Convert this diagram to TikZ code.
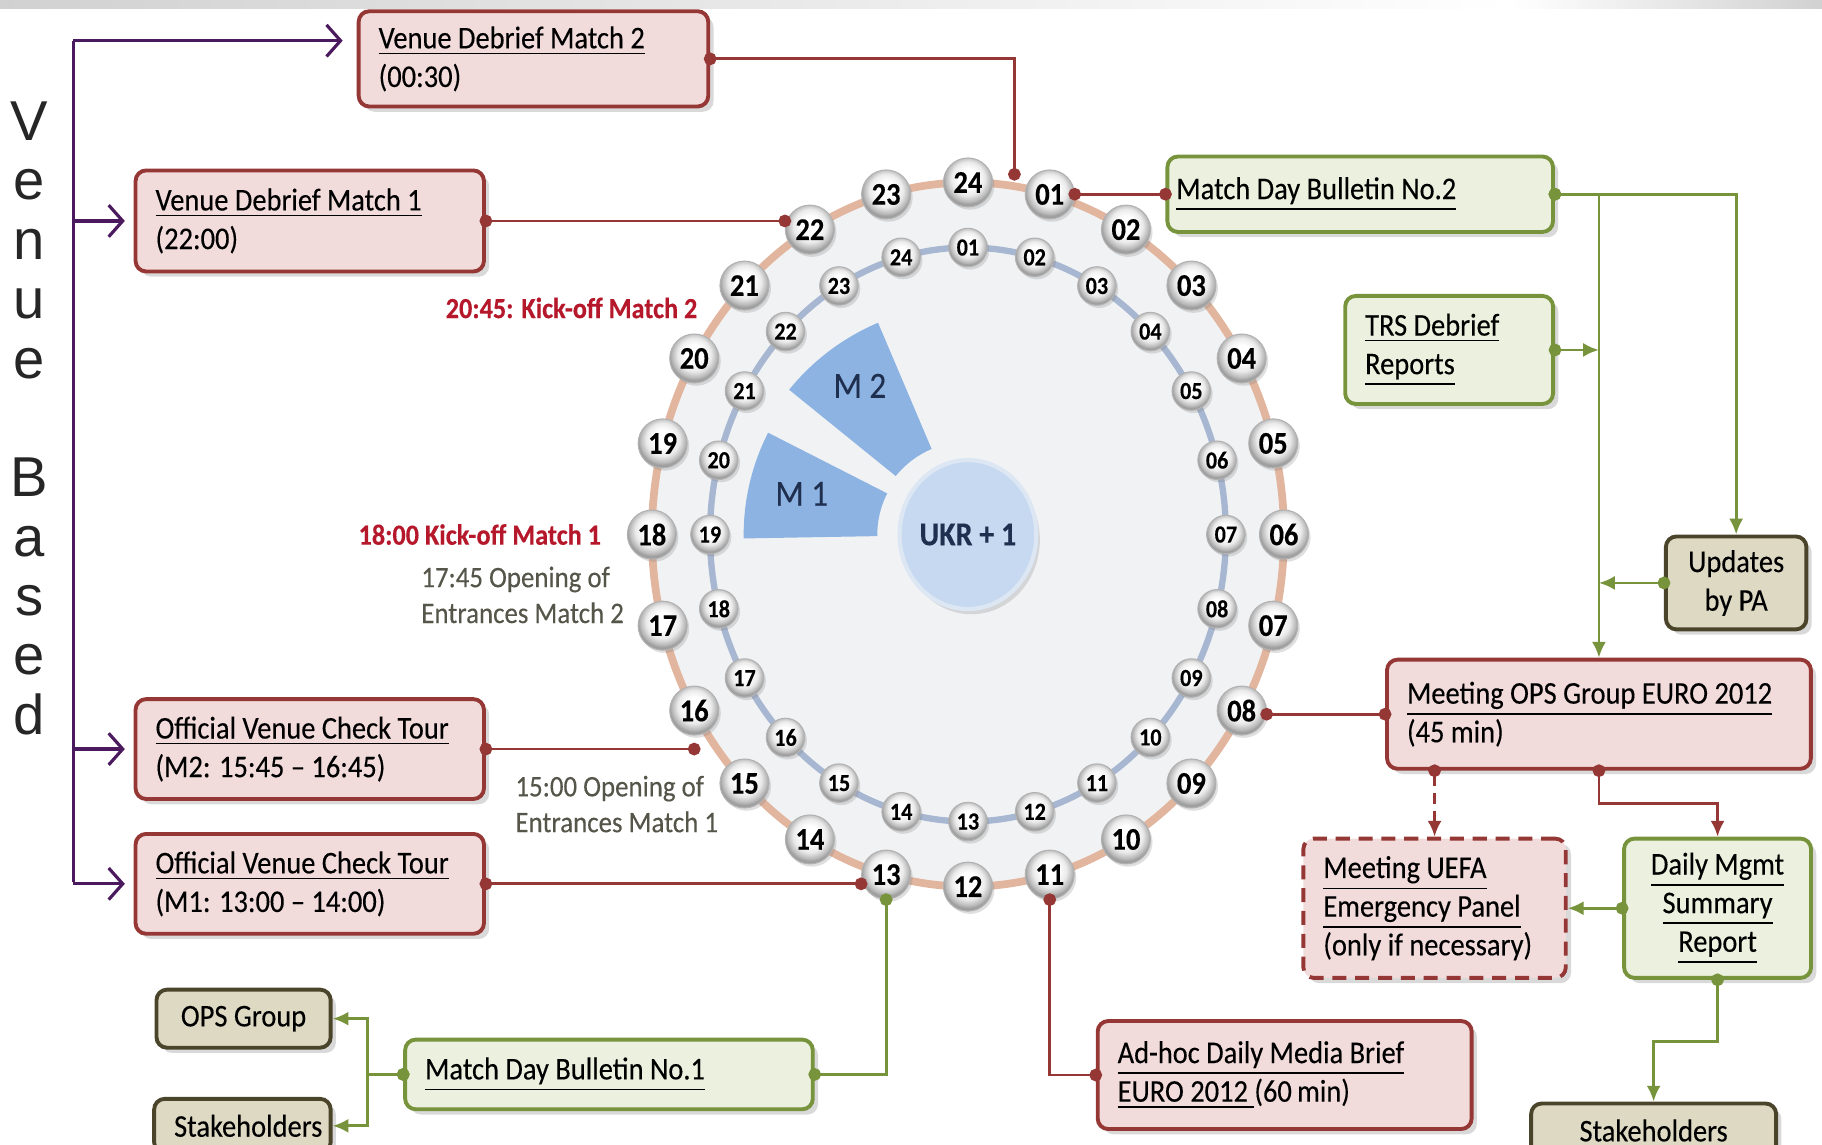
\documentclass[tikz,border=0pt]{standalone}
\usepackage{fontspec}
\setmainfont{Carlito}[FakeStretch=0.9, FakeBold=0.25]
\newfontfamily\venuefont{Liberation Sans}
\usepackage{tikz}
\usetikzlibrary{positioning}
\usetikzlibrary{calc}
\usetikzlibrary{shadows}
\usetikzlibrary{arrows.meta}
\usetikzlibrary{shapes.geometric}

\definecolor{boxred}{HTML}{953735}
\definecolor{fillred}{HTML}{F2DCDB}
\definecolor{boxgreen}{HTML}{77933C}
\definecolor{fillgreen}{HTML}{EBF1DE}
\definecolor{boxtan}{HTML}{4A452A}
\definecolor{filltan}{HTML}{DDD9C3}
\definecolor{venuepurple}{HTML}{4B1A5E}
\definecolor{kickred}{HTML}{B5172B}
\definecolor{opengray}{HTML}{55554A}
\definecolor{ringtan}{HTML}{E2B59E}
\definecolor{ringblue}{HTML}{A7B6D1}
\definecolor{discgray}{HTML}{F1F2F4}
\definecolor{wedgeblue}{HTML}{8DB3E2}
\definecolor{ukrblue}{HTML}{C6D9F1}
\definecolor{ukrrim}{HTML}{DDE7F4}
\definecolor{navytext}{HTML}{1F2F4F}

\pgfdeclareradialshading{pearl}{\pgfpoint{0bp}{6bp}}{color(0bp)=(white); color(9bp)=(white); color(17bp)=(black!8); color(23bp)=(black!28); color(25bp)=(black!38); color(50bp)=(black!38)}

\tikzset{
    basebox/.style={rectangle, rounded corners=3pt, line width=1.1pt, anchor=north west,
        align=flush left, inner xsep=0.2cm, inner ysep=2pt, font=\fontsize{9}{11}\selectfont,
        drop shadow={shadow xshift=1.5pt, shadow yshift=-1.5pt, opacity=0.3}},
    redbox/.style={basebox, draw=boxred, fill=fillred},
    greenbox/.style={basebox, draw=boxgreen, fill=fillgreen},
    tanbox/.style={basebox, draw=boxtan, fill=filltan, align=flush center},
    outerball/.style={circle, minimum size=0.49cm, inner sep=0pt, shading=pearl,
        draw=black!30, line width=0.3pt, font=\fontsize{9}{9}\selectfont\bfseries,
        drop shadow={shadow xshift=0.6pt, shadow yshift=-0.8pt, opacity=0.25}},
    innerball/.style={outerball, minimum size=0.385cm, font=\fontsize{7}{7}\selectfont\bfseries},
    ukrdisc/.style={ellipse, inner sep=0pt, minimum width=1.35cm, minimum height=1.49cm, fill=ukrblue,
        draw=ukrrim, line width=1.2pt, text=navytext, font=\fontsize{9.5}{11}\selectfont\bfseries,
        drop shadow={shadow xshift=1pt, shadow yshift=-1.5pt, opacity=0.25}},
    redlink/.style={draw=boxred, line width=0.8pt, shorten <=-1.8pt, shorten >=-1.8pt,
        arrows={Circle[length=3.6pt]-Circle[length=3.6pt]}},
    greenlink/.style={draw=boxgreen, line width=0.8pt, shorten <=-1.8pt, shorten >=-1.8pt,
        arrows={Circle[length=3.6pt]-Circle[length=3.6pt]}},
    redarrow/.style={draw=boxred, line width=0.8pt, shorten <=-1.8pt,
        arrows={Circle[length=3.6pt]-Latex[length=4.5pt, width=4pt]}},
    greenarrow/.style={draw=boxgreen, line width=0.8pt, shorten <=-1.8pt,
        arrows={Circle[length=3.6pt]-Latex[length=4.5pt, width=4pt]}},
    venuearrow/.style={draw=venuepurple, line width=0.9pt, arrows={-Straight Barb[length=4pt, width=9pt]}},
    kicklabel/.style={anchor=west, inner xsep=0pt, text=kickred, font=\fontsize{8.3}{10}\selectfont\bfseries},
    openlabel/.style={anchor=west, inner xsep=0pt, align=flush left, text=opengray, font=\fontsize{8.5}{10.2}\selectfont}
}

\begin{document}
\begin{tikzpicture}[x=0.01162cm, y=-0.01162cm]
    \useasboundingbox (0,0) rectangle (1568,985);
    \clip (0,0) rectangle (1568,985);
    \shade[left color=black!18, right color=white] (0,0) rectangle (1300,7);
    \shade[left color=white, right color=black!18] (1300,0) rectangle (1568,7);

    % clock face
    \coordinate (clock) at (833,460);
    \fill[discgray] (clock) ellipse [x radius=272, y radius=303];
    \draw[ringtan, line width=2.2pt] (clock) ellipse [x radius=272, y radius=303];
    \draw[ringblue, line width=1.8pt] (clock) ellipse [x radius=222, y radius=247];

    % match wedges
    \fill[wedgeblue] ($(clock)+(-113:80)$) -- ($(clock)+(-113:198)$)
        arc[start angle=-113, end angle=-141, radius=198] -- ($(clock)+(-141:80)$)
        arc[start angle=-141, end angle=-113, radius=80] -- cycle;
    \fill[wedgeblue] ($(clock)+(-153:78)$) -- ($(clock)+(-153:193)$)
        arc[start angle=-153, end angle=-181, radius=193] -- ($(clock)+(-181:78)$)
        arc[start angle=-181, end angle=-153, radius=78] -- cycle;
    \node[text=navytext, font=\fontsize{10.5}{12}\selectfont] (mtwo) at (740,332) {M 2};
    \node[text=navytext, font=\fontsize{10.5}{12}\selectfont] (mone) at (690,425) {M 1};
    \node[ukrdisc] (ukr) at (clock) {UKR + 1};

    % hour balls
    \foreach \h in {1,...,24} {
        \pgfmathsetmacro{\ang}{15*\h-90}
        \node[outerball] (o\h) at ($(clock)+(\ang:272 and 303)$) {\ifnum\h<10 0\fi\h};
        \pgfmathsetmacro{\ang}{15*\h-105}
        \node[innerball] (i\h) at ($(clock)+(\ang:222 and 247)$) {\ifnum\h<10 0\fi\h};
    }

    % time notes
    \node[kicklabel] (kicktwo) at (383,265) {20:45: Kick-off Match 2};
    \node[kicklabel] (kickone) at (308,460) {18:00 Kick-off Match 1};
    \node[openlabel] (openingtwo) at (362,512) {17:45 Opening of\\Entrances Match 2};
    \node[openlabel] (openingone) at (443,692) {15:00 Opening of\\Entrances Match 1};

    \node[font=\venuefont\fontsize{16}{16.9}\selectfont, align=center, inner sep=0pt, text=black!85]
        (venue) at (25,360) {V\\e\\n\\u\\e\\[16.9pt]B\\a\\s\\e\\d};

    % boxes
    \node[redbox, minimum width=3.498cm, minimum height=0.953cm, text width=3.098cm]
        (debrieftwo) at (307,8) {\underline{Venue Debrief Match 2}\\(00:30)};
    \node[redbox, minimum width=3.486cm, minimum height=1.011cm, text width=3.086cm]
        (debriefone) at (115,145) {\underline{Venue Debrief Match 1}\\(22:00)};
    \node[redbox, minimum width=3.486cm, minimum height=0.999cm, text width=3.086cm]
        (checktwo) at (115,600) {\underline{Official Venue Check Tour}\\(M2: 15:45 -- 16:45)};
    \node[redbox, minimum width=3.486cm, minimum height=0.999cm, text width=3.086cm]
        (checkone) at (115,716) {\underline{Official Venue Check Tour}\\(M1: 13:00 -- 14:00)};
    \node[greenbox, inner xsep=0.09cm, minimum width=3.858cm, minimum height=0.755cm, text width=3.678cm]
        (bulletintwo) at (1003,133) {\underline{Match Day Bulletin No.2}};
    \node[greenbox, minimum width=2.080cm, minimum height=1.081cm, text width=1.680cm]
        (trs) at (1156,253) {\underline{TRS Debrief}\\\underline{Reports}};
    \node[tanbox, minimum width=1.406cm, minimum height=0.930cm, text width=1.006cm]
        (updates) at (1432,460) {Updates\\by PA};
    \node[redbox, minimum width=4.241cm, minimum height=1.092cm, text width=3.841cm]
        (meetops) at (1192,566) {\underline{Meeting OPS Group EURO 2012}\\(45 min)};
    \node[redbox, dash pattern=on 4pt off 2.5pt, minimum width=2.626cm, minimum height=1.394cm, text width=2.226cm]
        (uefa) at (1120,720) {\underline{Meeting UEFA}\\\underline{Emergency Panel}\\(only if necessary)};
    \node[greenbox, align=flush center, minimum width=1.871cm, minimum height=1.394cm, text width=1.471cm]
        (dailymgmt) at (1396,720) {\underline{Daily Mgmt}\\\underline{Summary}\\\underline{Report}};
    \node[redbox, minimum width=3.742cm, minimum height=1.081cm, text width=3.342cm]
        (adhoc) at (943,877) {\underline{Ad-hoc Daily Media Brief}\\\underline{EURO 2012~}(60\,min)};
    \node[tanbox, minimum width=2.452cm, minimum height=0.54cm, text width=2.052cm]
        (stakeright) at (1316,948) {Stakeholders};
    \node[tanbox, minimum width=1.743cm, minimum height=0.581cm, text width=1.343cm]
        (opsgroup) at (133,850) {OPS Group};
    \node[tanbox, minimum width=1.766cm, minimum height=0.54cm, text width=1.366cm]
        (stakeleft) at (131,944) {Stakeholders};
    \node[greenbox, minimum width=4.079cm, minimum height=0.697cm, text width=3.679cm]
        (bulletinone) at (347,893) {\underline{Match Day Bulletin No.1}};

    % venue based arrows
    \coordinate (spinetop) at (63,35);
    \coordinate (spinebot) at (63,759);
    \draw[draw=venuepurple, line width=0.9pt] (spinetop) -- (spinebot);
    \draw[venuearrow, shorten >=4pt] (spinetop) -- (debrieftwo.west |- spinetop);
    \draw[venuearrow, shorten >=2.5pt] (spinetop |- debriefone.west) -- (debriefone.west);
    \draw[venuearrow, shorten >=2.5pt] (spinetop |- checktwo.west) -- (checktwo.west);
    \draw[venuearrow, shorten >=2.5pt] (spinetop |- checkone.west) -- (checkone.west);

    % links to the clock
    \coordinate (halfpast) at (873,150);
    \draw[redlink] (debrieftwo.east) -| (halfpast);
    \draw[redlink] (debriefone.east) -- (debriefone.east -| o22.west);
    \draw[redlink] (checktwo.east) -- (checktwo.east -| o16);
    \draw[redlink] (checkone.east) -- (checkone.east -| o13.west);
    \draw[redlink] (o1.east |- bulletintwo.west) -- (bulletintwo.west);
    \draw[redlink] (o8.east |- meetops.west) -- (meetops.west);
    \draw[redlink] (o11.south) |- (adhoc.west);
    \draw[greenlink] (o13.south) |- (bulletinone.east);

    % reporting flow
    \draw[greenarrow] (bulletinone.west) -- ++(-31,0) |- (opsgroup.east);
    \draw[greenarrow] (bulletinone.west) -- ++(-31,0) |- (stakeleft.east);
    \draw[greenarrow] (bulletintwo.east) -| (updates.north);
    \draw[greenarrow] (bulletintwo.east) -| (meetops.north);
    \draw[greenarrow] (trs.east) -- (trs.east -| meetops.north);
    \draw[greenarrow] (updates.west) -- (updates.west -| meetops.north);
    \draw[redarrow, dash pattern=on 3pt off 2pt] (meetops.south -| uefa.north) -- (uefa.north);
    \draw[redarrow] (meetops.south) -- ++(0,28) -| (dailymgmt.north);
    \draw[greenarrow] (dailymgmt.west) -- (uefa.east);
    \draw[greenarrow] (dailymgmt.south) -- ++(0,53) -| (stakeright.north);
\end{tikzpicture}
\end{document}
